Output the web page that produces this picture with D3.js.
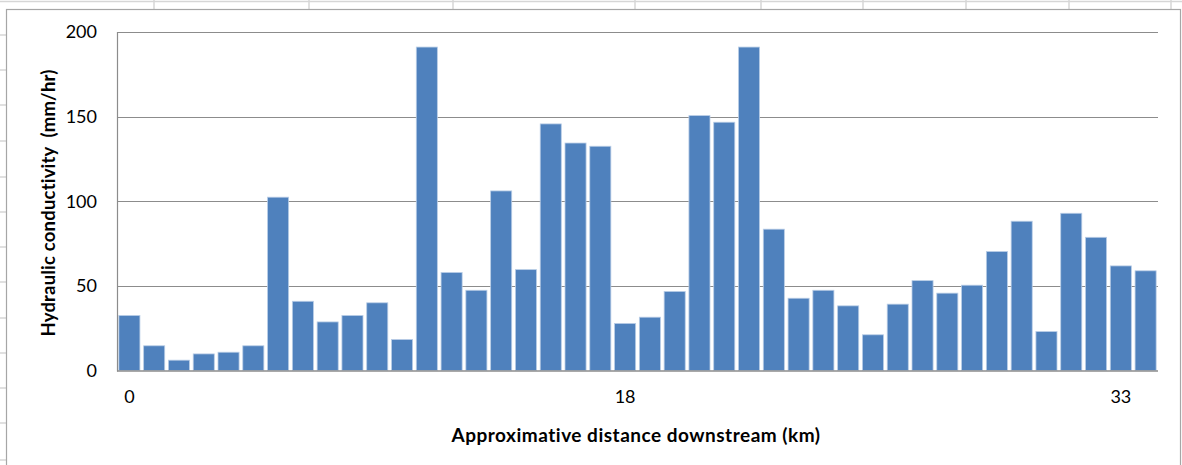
<!DOCTYPE html>
<html>
<head>
<meta charset="utf-8">
<script src="https://cdn.jsdelivr.net/npm/d3@7"></script>
<style>
  html, body { margin: 0; padding: 0; background: #fff; }
  svg { display: block; }
</style>
</head>
<body>
<svg id="chart" width="1182" height="465"></svg>
<script>
// ---- data ----
const categories = d3.range(42);
const values = [32.5, 14.6, 6.1, 9.8, 10.8, 14.6, 102.4, 40.9, 28.7, 32.5,
                40.0, 18.3, 191.1, 57.9, 47.4, 106.1, 59.6, 145.7, 134.4, 132.5,
                27.8, 31.5, 46.7, 150.6, 146.7, 191.1, 83.5, 42.7, 47.4, 38.2,
                21.1, 39.2, 53.1, 45.7, 50.4, 70.3, 88.2, 23.0, 92.9, 78.7,
                61.8, 58.9];
const xTickIndex = [0, 20, 40];
const xTickLabels = ["0", "18", "33"];
const yTicks = [0, 50, 100, 150, 200];
const xTitle = "Approximative distance downstream (km)";
const yTitle = "Hydraulic conductivity  (mm/hr)";

// ---- layout ----
const svg = d3.select("#chart");
const W = 1182, H = 465;
const plot = {left: 117, right: 1158, top: 32, bottom: 370.5};

// spreadsheet background (cells behind the chart object)
const bg = svg.append("g").attr("stroke", "#d6d6d6").attr("stroke-width", 1.5);
bg.append("line").attr("x1", 0).attr("x2", W).attr("y1", 1.5).attr("y2", 1.5);
[154, 309, 453, 635, 761, 863, 966, 1069, 1171].forEach(x => {
  bg.append("line").attr("x1", x).attr("x2", x).attr("y1", 0).attr("y2", 9);
});
[35, 70, 105, 141, 177, 212, 247, 282, 318, 353, 388, 423, 460].forEach(y => {
  bg.append("line").attr("x1", 0).attr("x2", 6).attr("y1", y).attr("y2", y);
});

// chart frame
svg.append("rect")
  .attr("x", 6.5).attr("y", 9.5).attr("width", 1174).attr("height", 470)
  .attr("fill", "#fff").attr("stroke", "#a6a6a6").attr("stroke-width", 1.2);

const x = d3.scaleBand().domain(categories).range([plot.left, plot.right]).paddingInner(0.15).paddingOuter(0.075);
const y = d3.scaleLinear().domain([0, 200]).range([plot.bottom, plot.top]);

// gridlines
svg.append("g").selectAll("line").data(yTicks.filter(d => d > 0)).join("line")
  .attr("x1", plot.left).attr("x2", plot.right)
  .attr("y1", d => Math.round(y(d)) + 0.5).attr("y2", d => Math.round(y(d)) + 0.5)
  .attr("stroke", "#8c8c8c").attr("stroke-width", 1.2);

// bars
svg.append("g").selectAll("rect").data(values).join("rect")
  .attr("x", (d, i) => x(categories[i]))
  .attr("width", x.bandwidth())
  .attr("y", d => y(d))
  .attr("height", d => y(0) - y(d))
  .attr("fill", "#4f81bd")
  .attr("stroke", "#b9cde6").attr("stroke-width", 0.8);

// axes lines
svg.append("line").attr("x1", plot.left + 0.5).attr("x2", plot.left + 0.5)
  .attr("y1", plot.top).attr("y2", plot.bottom + 1)
  .attr("stroke", "#8c8c8c").attr("stroke-width", 1.2);
svg.append("line").attr("x1", plot.left).attr("x2", plot.right)
  .attr("y1", plot.bottom + 0.5).attr("y2", plot.bottom + 0.5)
  .attr("stroke", "#8c8c8c").attr("stroke-width", 1.5);

// y axis labels via d3 axis
const yAxis = d3.axisLeft(y).tickValues(yTicks).tickSize(0).tickPadding(20);
const gy = svg.append("g").attr("transform", `translate(${plot.left},0)`).call(yAxis);
gy.select(".domain").remove();
gy.selectAll("text").attr("font-family", "Lato, 'Open Sans', sans-serif")
  .attr("font-size", 18).attr("fill", "#000");

// x axis labels
const xAxis = d3.axisBottom(x).tickValues(xTickIndex).tickSize(0).tickPadding(20)
  .tickFormat(d => xTickLabels[xTickIndex.indexOf(d)]);
const gx = svg.append("g").attr("transform", `translate(0,${plot.bottom})`).call(xAxis);
gx.select(".domain").remove();
gx.selectAll("text").attr("font-family", "Lato, 'Open Sans', sans-serif")
  .attr("font-size", 18).attr("fill", "#000");

// titles
svg.append("text").text(xTitle)
  .attr("x", 636).attr("y", 442).attr("text-anchor", "middle")
  .attr("font-family", "Lato, 'Open Sans', sans-serif").attr("font-weight", "bold")
  .attr("font-size", 19).attr("letter-spacing", 0.5).attr("fill", "#000");
svg.append("text").text(yTitle)
  .attr("transform", "translate(55,203) rotate(-90)").attr("text-anchor", "middle")
  .attr("font-family", "Lato, 'Open Sans', sans-serif").attr("font-weight", "bold")
  .attr("font-size", 18.5).attr("letter-spacing", 0.2).attr("fill", "#000").style("white-space", "pre");
</script>
</body>
</html>
